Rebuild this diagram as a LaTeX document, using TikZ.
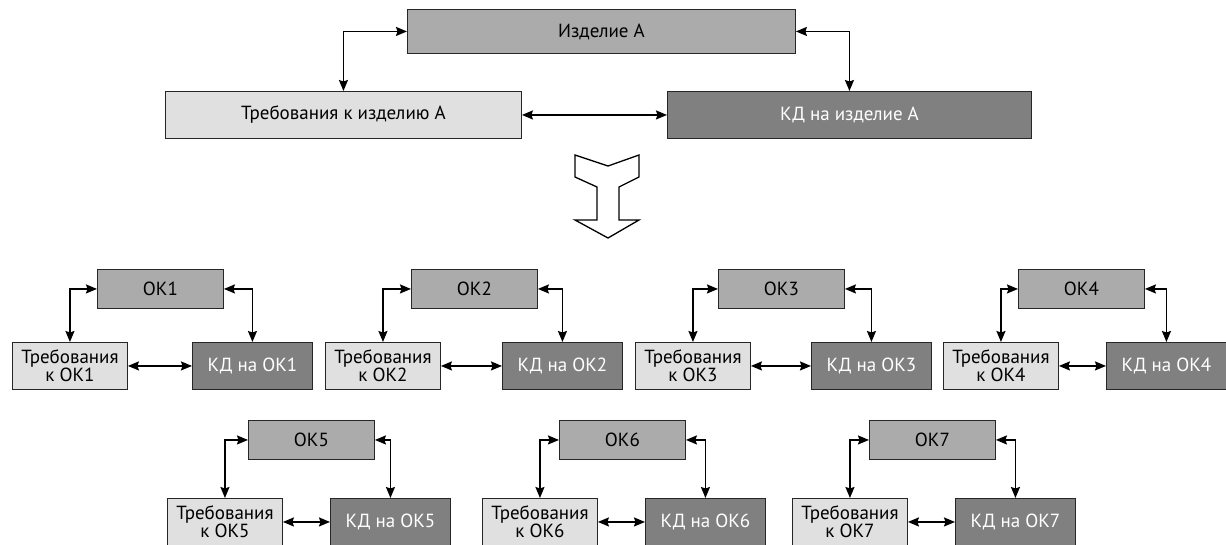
\documentclass[tikz,border=0pt]{standalone}
\usepackage{fontspec}
\setmainfont{PT Sans}
\usetikzlibrary{arrows.meta}
\tikzset{
  box/.style={draw=black!85, line width=0.9pt, inner sep=0pt, align=center,
    font=\fontsize{19}{18.5}\selectfont, anchor=north west},
  prod/.style={box, fill=black!33},
  reqbox/.style={box, fill=black!12},
  docbox/.style={box, fill=black!50, text=white},
  link/.style={line width=1.7pt,
    {Stealth[length=11pt,width=9pt,inset=1.5pt]}-{Stealth[length=11pt,width=9pt,inset=1.5pt]}},
  bigarrow/.style={draw=black, fill=white, line width=1.3pt, line join=miter},
}
% one assembly unit: #1 index, #2/#3/#4 left edges of unit, requirements and documents,
% #5 top of the unit box, #6 top of the lower pair
\newcommand\okgroup[6]{%
  \node[prod, minimum width=126pt, minimum height=39pt] (ok#1) at (#2,#5) {ОК#1};
  \node[reqbox, minimum width=115pt, minimum height=47pt] (req#1) at (#3,#6) {Требования\\к ОК#1};
  \node[docbox, minimum width=120pt, minimum height=47pt] (kd#1) at (#4,#6) {КД на ОК#1};
  \draw[link] (ok#1.west) -| (req#1.north);
  \draw[link] (ok#1.east) -| (kd#1.north);
  \draw[link] (req#1.east) -- (kd#1.west);
}
\begin{document}
\begin{tikzpicture}[x=1pt, y=-1pt]
\useasboundingbox (0,0) rectangle (1226,544);

% product level
\node[prod, minimum width=388pt, minimum height=44pt] (prod) at (407,9) {Изделие А};
\node[reqbox, minimum width=356pt, minimum height=47pt] (req) at (165,91) {Требования к изделию А};
\node[docbox, minimum width=364pt, minimum height=47pt] (kd) at (667,91) {КД на изделие А};
\draw[link] (prod.west) -| (req.north);
\draw[link] (prod.east) -| (kd.north);
\draw[link] (req.east) -- (kd.west);

% decomposition arrow
\draw[bigarrow] (575,155) -- (608,166) -- (639,155) -- (639,177) -- (619,187)
  -- (619,220) -- (639,220) -- (608,238) -- (575,220) -- (597,220) -- (597,187)
  -- (575,177) -- cycle;

% assembly units, first row
\okgroup{1}{97}{12}{192}{269}{342}
\okgroup{2}{411}{325}{502}{269}{342}
\okgroup{3}{718}{635}{811}{269}{342}
\okgroup{4}{1018}{943}{1106}{269}{342}
% second row
\okgroup{5}{248}{167}{330}{420}{498}
\okgroup{6}{559}{482}{645}{420}{498}
\okgroup{7}{869}{792}{955}{420}{498}
\end{tikzpicture}
\end{document}
